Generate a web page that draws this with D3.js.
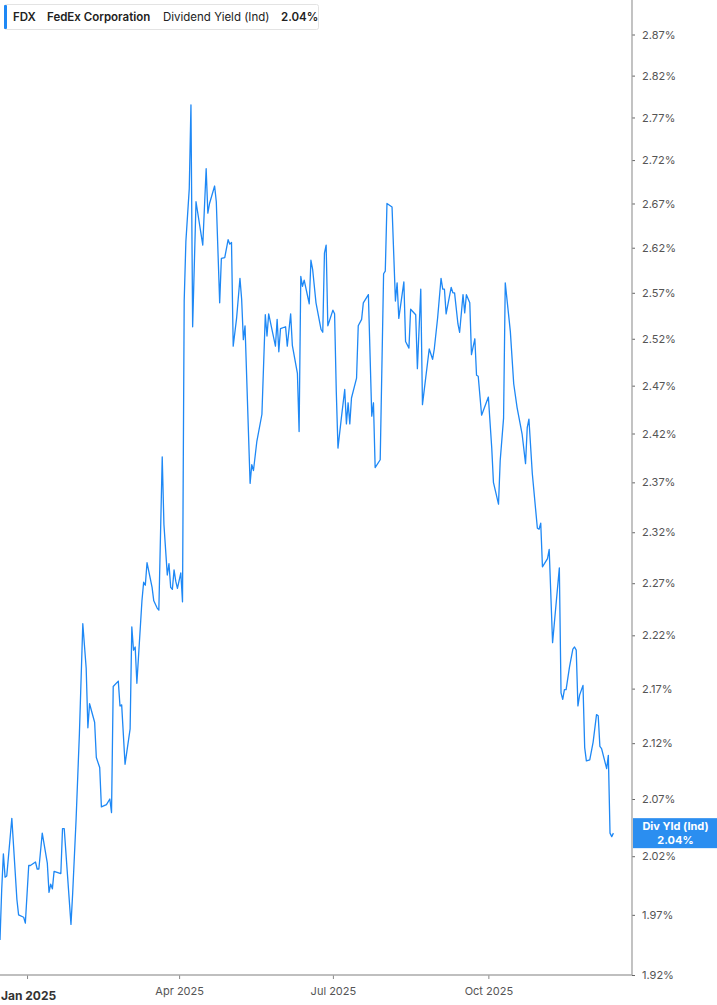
<!DOCTYPE html>
<html>
<head>
<meta charset="utf-8">
<script src="https://cdnjs.cloudflare.com/ajax/libs/d3/7.8.5/d3.min.js"></script>
<style>
  body { margin: 0; background: #fff; }
  svg { display: block; font-family: Inter, Roboto, sans-serif; }
</style>
</head>
<body>
<script>
// FDX dividend yield (indicated)
var dates = [
  "2024-12-16","2024-12-17","2024-12-18","2024-12-19","2024-12-20","2024-12-23","2024-12-26","2024-12-27","2024-12-30","2024-12-31",
  "2025-01-02","2025-01-03","2025-01-06","2025-01-07","2025-01-08","2025-01-10","2025-01-13","2025-01-14","2025-01-15","2025-01-16",
  "2025-01-17","2025-01-21","2025-01-22","2025-01-23","2025-01-27","2025-01-28","2025-01-30","2025-02-01","2025-02-03","2025-02-05",
  "2025-02-06","2025-02-07","2025-02-10","2025-02-11","2025-02-13","2025-02-14","2025-02-17","2025-02-19","2025-02-20","2025-02-21",
  "2025-02-24","2025-02-25","2025-02-26","2025-02-28","2025-03-03","2025-03-04","2025-03-05","2025-03-06","2025-03-07","2025-03-10",
  "2025-03-11","2025-03-12","2025-03-13","2025-03-16","2025-03-17","2025-03-19","2025-03-20","2025-03-22","2025-03-23","2025-03-25",
  "2025-03-26","2025-03-27","2025-03-28","2025-03-29","2025-03-30","2025-03-31","2025-04-02","2025-04-03","2025-04-04","2025-04-05",
  "2025-04-07","2025-04-08","2025-04-09","2025-04-11","2025-04-15","2025-04-17","2025-04-18","2025-04-19","2025-04-22","2025-04-23",
  "2025-04-25","2025-04-26","2025-04-28","2025-04-30","2025-05-01","2025-05-02","2025-05-03","2025-05-05","2025-05-07","2025-05-08",
  "2025-05-09","2025-05-10","2025-05-13","2025-05-14","2025-05-15","2025-05-17","2025-05-20","2025-05-22","2025-05-23","2025-05-24",
  "2025-05-28","2025-05-29","2025-05-30","2025-05-31","2025-06-03","2025-06-04","2025-06-06","2025-06-07","2025-06-10","2025-06-11",
  "2025-06-12","2025-06-13","2025-06-14","2025-06-17","2025-06-18","2025-06-19","2025-06-21","2025-06-24","2025-06-25","2025-06-26",
  "2025-06-27","2025-06-28","2025-07-01","2025-07-02","2025-07-03","2025-07-04","2025-07-06","2025-07-08","2025-07-09","2025-07-10",
  "2025-07-11","2025-07-12","2025-07-15","2025-07-16","2025-07-18","2025-07-19","2025-07-22","2025-07-24","2025-07-25","2025-07-26",
  "2025-07-29","2025-07-31","2025-08-01","2025-08-02","2025-08-05","2025-08-07","2025-08-08","2025-08-09","2025-08-12","2025-08-13",
  "2025-08-15","2025-08-16","2025-08-19","2025-08-20","2025-08-22","2025-08-23","2025-08-27","2025-08-29","2025-08-30","2025-09-01",
  "2025-09-03","2025-09-04","2025-09-05","2025-09-06","2025-09-09","2025-09-10","2025-09-11","2025-09-13","2025-09-14","2025-09-16",
  "2025-09-17","2025-09-18","2025-09-20","2025-09-21","2025-09-23","2025-09-24","2025-09-25","2025-09-27","2025-10-01","2025-10-03",
  "2025-10-04","2025-10-07","2025-10-08","2025-10-10","2025-10-11","2025-10-14","2025-10-16","2025-10-18","2025-10-21","2025-10-23",
  "2025-10-24","2025-10-25","2025-10-27","2025-10-30","2025-10-31","2025-11-01","2025-11-02","2025-11-05","2025-11-06","2025-11-08",
  "2025-11-12","2025-11-13","2025-11-14","2025-11-15","2025-11-16","2025-11-18","2025-11-20","2025-11-21","2025-11-22","2025-11-23",
  "2025-11-24","2025-11-26","2025-11-27","2025-11-28","2025-11-30","2025-12-02","2025-12-04","2025-12-05","2025-12-06","2025-12-07",
  "2025-12-10","2025-12-11","2025-12-12","2025-12-13","2025-12-14"
];
var yields = [
  1.949,1.991,2.022,2.002,2.003,2.053,1.983,1.970,1.968,1.963,
  2.012,2.012,2.015,2.009,2.009,2.040,2.014,1.989,1.996,1.992,
  2.007,2.005,2.044,2.044,1.962,1.988,2.051,2.129,2.231,2.189,
  2.134,2.156,2.139,2.107,2.098,2.063,2.065,2.070,2.058,2.172,
  2.177,2.154,2.155,2.101,2.133,2.228,2.206,2.209,2.175,2.253,
  2.271,2.268,2.290,2.266,2.253,2.246,2.244,2.396,2.328,2.278,
  2.289,2.266,2.264,2.283,2.272,2.265,2.280,2.252,2.561,2.627,
  2.687,2.785,2.533,2.672,2.623,2.710,2.659,2.670,2.690,2.672,
  2.559,2.608,2.609,2.629,2.624,2.626,2.512,2.542,2.586,2.563,
  2.519,2.534,2.369,2.388,2.382,2.412,2.440,2.546,2.523,2.547,
  2.512,2.541,2.506,2.531,2.533,2.512,2.547,2.513,2.483,2.422,
  2.588,2.577,2.584,2.558,2.606,2.596,2.559,2.530,2.527,2.614,
  2.623,2.534,2.551,2.547,2.464,2.405,2.436,2.466,2.430,2.452,
  2.430,2.457,2.478,2.534,2.541,2.559,2.568,2.438,2.452,2.385,
  2.393,2.591,2.594,2.670,2.666,2.561,2.581,2.542,2.582,2.517,
  2.510,2.552,2.546,2.488,2.574,2.450,2.509,2.498,2.509,2.543,
  2.586,2.574,2.574,2.547,2.576,2.570,2.570,2.536,2.527,2.568,
  2.548,2.568,2.559,2.503,2.520,2.481,2.480,2.439,2.458,2.405,
  2.370,2.348,2.392,2.436,2.581,2.528,2.472,2.447,2.419,2.389,
  2.426,2.435,2.379,2.324,2.323,2.329,2.286,2.294,2.303,2.213,
  2.285,2.166,2.160,2.169,2.169,2.190,2.207,2.209,2.206,2.154,
  2.164,2.173,2.116,2.104,2.105,2.121,2.146,2.145,2.117,2.115,
  2.097,2.109,2.040,2.037,2.040
];
var yTicks = [1.92,1.97,2.02,2.07,2.12,2.17,2.22,2.27,2.32,2.37,2.42,2.47,2.52,2.57,2.62,2.67,2.72,2.77,2.82,2.87];
var xTicks = ["2025-01-01","2025-04-01","2025-07-01","2025-10-01"];
var lastYield = 2.04;

var W = 717, H = 1005;
var plotRight = 632, plotBottom = 975;
var blue = "#1e88f5";
var parse = d3.timeParse("%Y-%m-%d");

var data = dates.map(function(d, i){ return {date: parse(d), value: yields[i]}; });

var x = d3.scaleTime()
    .domain([parse("2024-12-16"), parse("2025-12-25")])
    .range([0, plotRight]);
var y = d3.scaleLog()
    .domain([1.92, 2.87])
    .range([plotBottom, 34.5]);

var svg = d3.select("body").append("svg")
    .attr("width", W)
    .attr("height", H);

// line
var line = d3.line()
    .x(function(d){ return x(d.date); })
    .y(function(d){ return y(d.value); });

svg.append("path")
    .datum(data)
    .attr("d", line)
    .attr("fill", "none")
    .attr("stroke", blue)
    .attr("stroke-width", 1.3)
    .attr("stroke-linejoin", "round");

// right axis
var yAxis = d3.axisRight(y)
    .tickValues(yTicks)
    .tickSize(3)
    .tickPadding(7)
    .tickFormat(function(d){ return d3.format(".2f")(d) + "%"; });

var gy = svg.append("g")
    .attr("transform", "translate(" + plotRight + ",0)")
    .call(yAxis);
gy.select(".domain").remove();
gy.selectAll(".tick line").attr("stroke", "#666");
gy.selectAll(".tick text")
    .attr("fill", "#555")
    .style("font-size", "11px")
    .style("font-family", "Inter, Roboto, sans-serif");
svg.append("line")
    .attr("x1", plotRight).attr("x2", plotRight)
    .attr("y1", 0).attr("y2", plotBottom)
    .attr("stroke", "#9a9a9a").attr("stroke-width", 1.2);

// bottom axis
var xAxis = d3.axisBottom(x)
    .tickValues(xTicks.map(parse))
    .tickSize(4)
    .tickPadding(8)
    .tickFormat(d3.timeFormat("%b %Y"));

var gx = svg.append("g")
    .attr("transform", "translate(0," + plotBottom + ")")
    .call(xAxis);
gx.select(".domain").remove();
gx.selectAll(".tick line").attr("stroke", "#888");
gx.selectAll(".tick text")
    .attr("fill", "#555")
    .style("font-size", "11px")
    .style("font-family", "Inter, Roboto, sans-serif");
// the year label is bold and starts at the left edge
gx.selectAll(".tick text")
    .filter(function(d){ return d.getMonth() === 0; })
    .attr("fill", "#333")
    .attr("text-anchor", "start")
    .attr("x", function(d){ return 0.5 - x(d); })
    .attr("dy", "1.05em")
    .style("font-size", "12px")
    .style("font-weight", "bold");
svg.append("line")
    .attr("x1", 0).attr("x2", plotRight)
    .attr("y1", plotBottom).attr("y2", plotBottom)
    .attr("stroke", "#aaa").attr("stroke-width", 1.5);

// last value badge
var yl = y(lastYield);
svg.append("rect")
    .attr("x", plotRight + 1).attr("y", yl - 15)
    .attr("width", W - plotRight - 1).attr("height", 30)
    .attr("fill", "#2b8ef0");
svg.append("text")
    .attr("x", (plotRight + W) / 2 + 1).attr("y", yl - 3)
    .attr("text-anchor", "middle")
    .attr("fill", "#fff")
    .style("font-size", "11px").style("font-weight", "bold")
    .text("Div Yld (Ind)");
svg.append("text")
    .attr("x", (plotRight + W) / 2 + 1).attr("y", yl + 11)
    .attr("text-anchor", "middle")
    .attr("fill", "#fff")
    .style("font-size", "11px").style("font-weight", "bold")
    .text(d3.format(".2f")(lastYield) + "%");

// legend
var lg = svg.append("g");
lg.append("rect")
    .attr("x", 4.5).attr("y", 4.5)
    .attr("width", 314).attr("height", 25)
    .attr("rx", 2)
    .attr("fill", "#fff")
    .attr("stroke", "#e3e3e3");
lg.append("rect")
    .attr("x", 4).attr("y", 5)
    .attr("width", 3).attr("height", 24)
    .attr("rx", 1)
    .attr("fill", blue);
var legendItems = [
  {t: "FDX", x: 13, w: "bold"},
  {t: "FedEx Corporation", x: 47, w: "bold"},
  {t: "Dividend Yield (Ind)", x: 163, w: "normal"},
  {t: d3.format(".2f")(lastYield) + "%", x: 281, w: "bold"}
];
lg.selectAll("text.item")
    .data(legendItems)
    .enter()
    .append("text")
    .attr("class", "item")
    .attr("x", function(d){ return d.x; })
    .attr("y", 21)
    .attr("fill", "#222")
    .style("font-size", "11.5px")
    .style("font-weight", function(d){ return d.w === "bold" ? 600 : 400; })
    .text(function(d){ return d.t; });
</script>
</body>
</html>
